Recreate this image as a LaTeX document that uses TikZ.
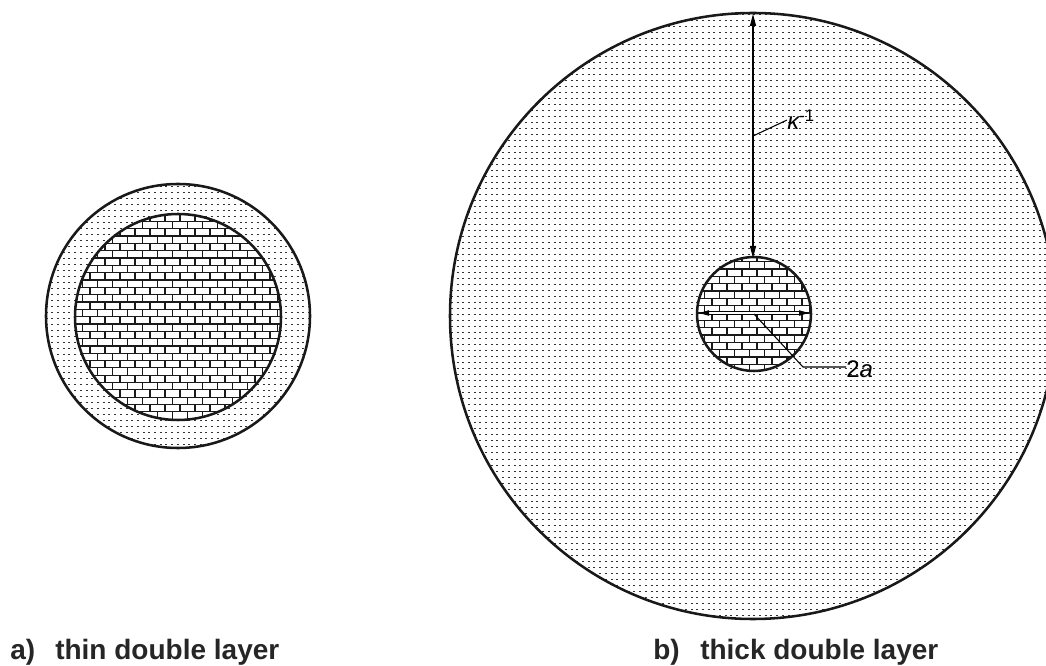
\documentclass[tikz,border=0pt]{standalone}
\usepackage{fontspec}
\setmainfont{Liberation Sans}
\usetikzlibrary{arrows.meta}
\tikzset{
  rim/.style={line width=1.9pt, draw=black!90},
  dotrow/.style={line width=0.75pt, draw=black!80, dash pattern=on 1.5pt off 2.78pt},
  brickline/.style={line width=0.85pt, draw=black!90},
  dim/.style={line width=0.9pt, {Triangle[length=9pt,width=4.5pt]}-{Triangle[length=9pt,width=4.5pt]}},
  twin/.style={line width=0.6pt, double=white, double distance=1.6pt, {Triangle[length=7.5pt,width=4pt]}-{Triangle[length=7.5pt,width=4pt]}},
  leader/.style={line width=0.8pt},
  caption/.style={font=\fontsize{21}{25}\selectfont\bfseries, anchor=base west, inner sep=0pt, text=black!85},
  lab/.style={font=\fontsize{18}{22}\selectfont, anchor=base west, inner sep=0pt},
}
\newcommand\myDots[4]{%
  \begin{scope}
    \clip (#1,#2) circle[radius=#3];
    \foreach \yy in {#4}{\draw[dotrow] (0,\yy) -- (1046,\yy);}
  \end{scope}}
\newcommand\myBricks[7]{%
  \begin{scope}
    \clip (#1,#2) circle[radius=#3];
    \fill[white] (#1,#2) circle[radius=#3];
    \foreach \k in {0,...,#5}{%
      \pgfmathsetmacro\yy{#4+\k*7.33}
      \pgfmathsetmacro\off{mod(\k,2)*7.5}
      \draw[brickline] (#6,\yy) -- (#6+#7*15,\yy);
      \foreach \j in {0,...,#7}{\draw[brickline] (#6+\off+\j*15,\yy) -- ++(0,7.33);}
    }
  \end{scope}}
\begin{document}
\begin{tikzpicture}[x=0.75pt,y=-0.75pt]
\useasboundingbox (0,0) rectangle (1046,666);
\clip (0,0) rectangle (1046,666);
\fill[white] (0,0) rectangle (1046,666);

% ---- left: thin double layer
\coordinate (LC) at (178,316);
\coordinate (LI) at (178,317);
\fill[white] (LC) circle[radius=132];
\myDots{178}{316}{132}{187,193,...,449}
\myBricks{178}{317}{103}{214}{29}{75}{14}
\draw[rim] (LI) circle[radius=103];
\draw[rim] (LC) circle[radius=132];

% ---- right: thick double layer
\coordinate (RC) at (753,316);
\coordinate (SC) at (754,314);
\myDots{753}{316}{303}{15,21,...,619}
\myBricks{754}{314}{57}{254.4}{17}{697}{8}
\draw[rim] (SC) circle[radius=57];
\draw[rim] (RC) circle[radius=303];

% kappa^-1 dimension
\coordinate (Btop) at (753,14);
\coordinate (Stop) at (753,258);
\draw[dim] (Btop) -- (Stop);
\node[lab] (kappa) at (787,130) {\itshape κ\textsuperscript{\upshape -1}};
\coordinate (kfoot) at (753,136);
\draw[leader] (kfoot) -- (kappa.west);

% 2a dimension
\coordinate (Sleft) at (699,313);
\coordinate (Sright) at (809,313);
\draw[twin] (Sleft) -- (Sright);
\node[lab] (twoa) at (846,378) {2\itshape a};
\coordinate (elbow) at (803,367);
\draw[leader] (SC) -- (elbow) -- (twoa.west |- elbow);

% captions
\node[caption] (capa1) at (10,659) {a)};
\node[caption] (capa2) at (55,659) {thin double layer};
\node[caption] (capb1) at (653,659) {b)};
\node[caption] (capb2) at (700,659) {thick double layer};
\end{tikzpicture}
\end{document}
